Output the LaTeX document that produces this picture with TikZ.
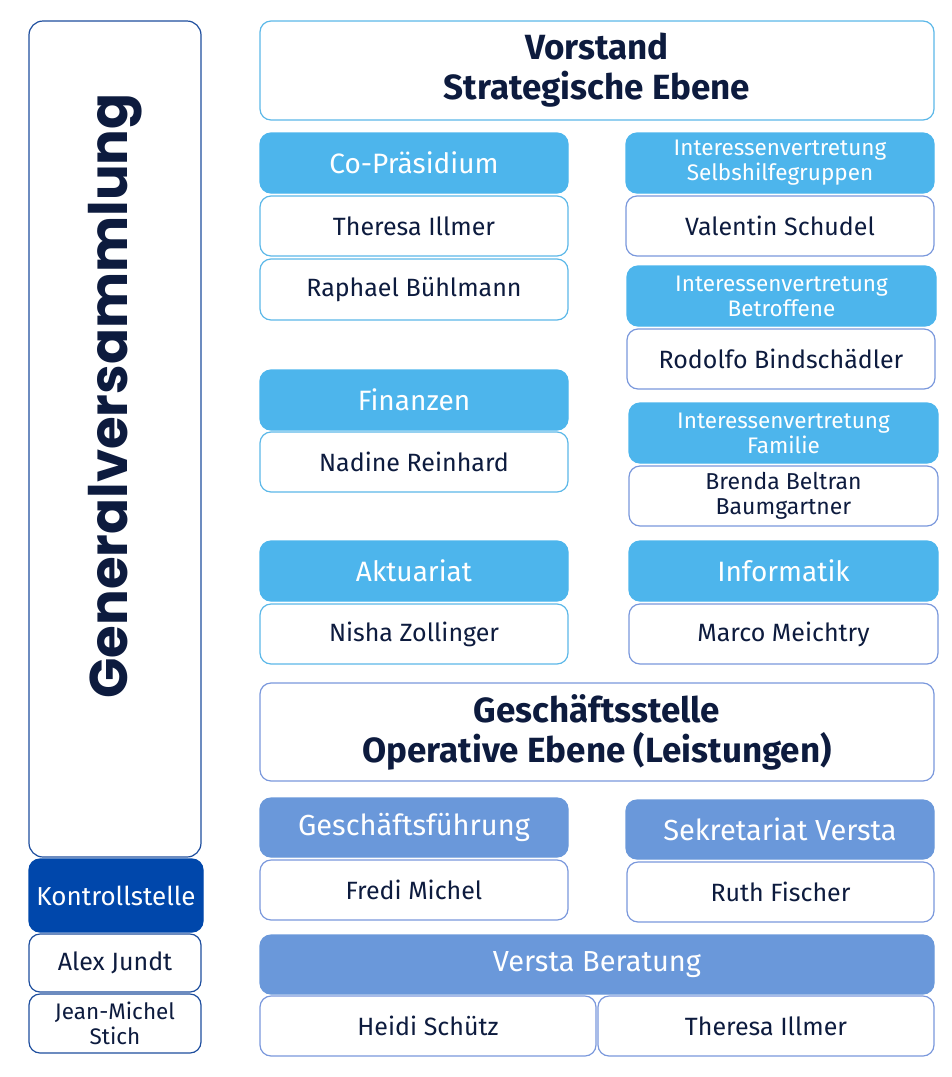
\documentclass[tikz,border=0pt]{standalone}
\usepackage{fontspec}
\usepackage{graphicx}
\setmainfont{Fira Sans}
\newfontfamily\titlefont{Poppins}
\definecolor{navy}{HTML}{0D1B3E}
\definecolor{lblue}{HTML}{4DB5EC}
\definecolor{lborder}{HTML}{5CB8E8}
\definecolor{mblue}{HTML}{6A98DA}
\definecolor{mborder}{HTML}{7A98DC}
\definecolor{dblue}{HTML}{0047AB}
\definecolor{gvborder}{HTML}{1E4E9E}
\tikzset{
  base/.style={rounded corners=11pt, line width=1.2pt, inner sep=0pt, align=center, text=navy},
  lhead/.style={base, fill=lblue, draw=lblue, text=white, font=\fontsize{28}{30}\selectfont},
  lheadsmall/.style={base, fill=lblue, draw=lblue, text=white, font=\fontsize{22.5}{25}\selectfont},
  lname/.style={base, fill=white, draw=lborder, font=\fontsize{25}{28}\selectfont},
  rname/.style={base, fill=white, draw=mborder, font=\fontsize{25}{28}\selectfont},
  mhead/.style={base, fill=mblue, draw=mblue, text=white, font=\fontsize{29}{32}\selectfont},
  bigbox/.style={base, fill=white, font=\fontsize{35}{40}\selectfont\bfseries},
}
\newcommand{\bx}[7]{%
  \node[#6, minimum width={(#4-#2)*1pt}, minimum height={(#5-#3)*1pt}] (#1) at ({(#2+#4)/2},{(#3+#5)/2}) {#7};}
\begin{document}
\begin{tikzpicture}[x=1pt,y=-1pt]
\useasboundingbox (0,0) rectangle (952,1077);
% left column
\bx{gv}{29}{21}{201}{857}{base, fill=white, draw=gvborder, rounded corners=14pt}{}
\node[rotate=90, text=navy] (gvtext) at (115,396) {\resizebox{605pt}{!}{\titlefont\bfseries Generalversammlung}};
\bx{ks}{29}{859}{203}{932}{base, fill=dblue, draw=dblue, text=white, font=\fontsize{26}{28}\selectfont}{Kontrollstelle}
\bx{aj}{29}{934}{201}{992}{base, fill=white, draw=gvborder, font=\fontsize{25}{28}\selectfont}{Alex Jundt}
\bx{jm}{29}{994}{201}{1053}{base, fill=white, draw=gvborder, font=\fontsize{22.5}{25}\selectfont}{Jean-Michel\\Stich}
% Vorstand
\bx{vs}{260}{21}{934}{120}{bigbox, draw=lborder}{Vorstand\\Strategische Ebene}
% left sub column
\bx{cop}{260}{133}{568}{193}{lhead}{Co-Präsidium}
\bx{ti}{260}{196}{568}{256}{lname}{Theresa Illmer}
\bx{rb}{260}{259}{568}{320}{lname}{Raphael Bühlmann}
\bx{fin}{260}{370}{568}{430}{lhead}{Finanzen}
\bx{nr}{260}{432}{568}{492}{lname}{Nadine Reinhard}
\bx{akt}{260}{541}{568}{601}{lhead}{Aktuariat}
\bx{nz}{260}{604}{568}{664}{lname}{Nisha Zollinger}
% right sub column
\bx{ivs}{626}{133}{934}{193}{lheadsmall}{Interessenvertretung\\Selbshilfegruppen}
\bx{vsch}{626}{196}{934}{256}{rname}{Valentin Schudel}
\bx{ivb}{627}{266}{936}{326}{lheadsmall}{Interessenvertretung\\Betroffene}
\bx{rod}{627}{329}{935}{389}{rname}{Rodolfo Bindschädler}
\bx{ivf}{629}{403}{938}{463}{lheadsmall}{Interessenvertretung\\Familie}
\bx{bb}{629}{466}{938}{526}{rname, font=\fontsize{23}{25}\selectfont}{Brenda Beltran\\Baumgartner}
\bx{inf}{629}{541}{938}{601}{lhead}{Informatik}
\bx{mm}{629}{604}{938}{664}{rname}{Marco Meichtry}
% Geschäftsstelle
\bx{gs}{260}{683}{934}{781}{bigbox, draw=mborder}{Geschäftsstelle\\Operative Ebene (Leistungen)}
\bx{gf}{260}{798}{568}{857}{mhead}{Geschäftsführung}
\bx{fm}{260}{860}{568}{920}{rname}{Fredi Michel}
\bx{sek}{626}{800}{934}{859}{mhead}{Sekretariat Versta}
\bx{rf}{627}{862}{934}{922}{rname}{Ruth Fischer}
\bx{vb}{260}{935}{934}{994}{mhead}{Versta Beratung}
\bx{hs}{260}{996}{596}{1056}{rname}{Heidi Schütz}
\bx{ti2}{598}{996}{934}{1056}{rname}{Theresa Illmer}
\end{tikzpicture}
\end{document}
